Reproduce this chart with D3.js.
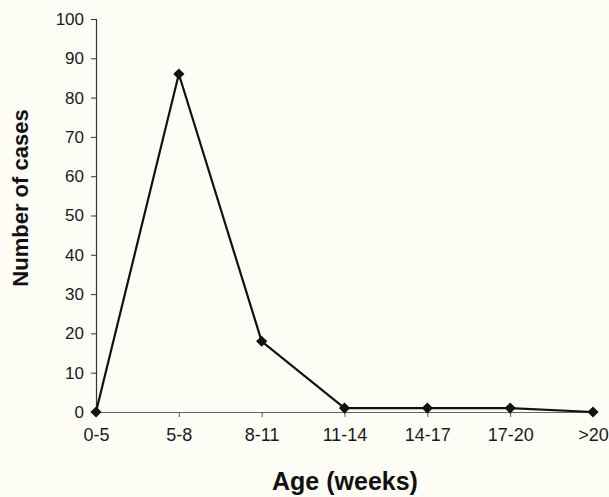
<!DOCTYPE html>
<html>
<head>
<meta charset="utf-8">
<script src="https://cdn.jsdelivr.net/npm/d3@7"></script>
<style>
  body { margin: 0; background: #fdfdf6; }
  svg { display: block; }
</style>
</head>
<body>
<div id="chart"></div>
<script>
// age groups and case counts
const ageGroups = ["0-5", "5-8", "8-11", "11-14", "14-17", "17-20", ">20"]
const cases = [0, 86, 18, 1, 1, 1, 0]
const yTicks = [0, 10, 20, 30, 40, 50, 60, 70, 80, 90, 100]

const width = 609
const height = 497
const margin = {top: 19, right: 16, bottom: 85, left: 96}

const svg = d3.select("#chart").append("svg")
  .attr("width", width)
  .attr("height", height)
  .style("background", "#fdfdf6")
  .style("font-family", "Liberation Sans, Arial, sans-serif")

const x = d3.scalePoint()
  .domain(ageGroups)
  .range([margin.left, width - margin.right])

const y = d3.scaleLinear()
  .domain([0, 100])
  .range([height - margin.bottom, margin.top])

// y axis
const yAxis = svg.append("g")
  .attr("transform", "translate(" + margin.left + ",0)")
  .call(d3.axisLeft(y).tickValues(yTicks).tickSize(5).tickPadding(7))
yAxis.select(".domain").attr("stroke", "#333").attr("stroke-width", 1.2)
yAxis.selectAll(".tick line").attr("stroke", "#333")
yAxis.selectAll("text").attr("font-size", 17).attr("fill", "#1a1a1a")

// x axis
const xAxis = svg.append("g")
  .attr("transform", "translate(0," + y(0) + ")")
  .call(d3.axisBottom(x).tickSize(5).tickPadding(11).tickSizeOuter(0))
xAxis.select(".domain").attr("stroke", "#666").attr("stroke-width", 1.2)
xAxis.selectAll(".tick line").attr("stroke", "#555")
xAxis.selectAll("text").attr("font-size", 18).attr("fill", "#1a1a1a")

// line
const line = d3.line()
  .x((d, i) => x(ageGroups[i]))
  .y(d => y(d))

svg.append("path")
  .datum(cases)
  .attr("fill", "none")
  .attr("stroke", "#111")
  .attr("stroke-width", 2.2)
  .attr("d", line)

// diamond markers
svg.selectAll(".pt")
  .data(cases)
  .enter()
  .append("path")
  .attr("class", "pt")
  .attr("d", d3.symbol().type(d3.symbolDiamond2).size(80))
  .attr("transform", (d, i) => "translate(" + x(ageGroups[i]) + "," + y(d) + ")")
  .attr("fill", "#111")

// axis titles
svg.append("text")
  .attr("x", 345)
  .attr("y", 490)
  .attr("text-anchor", "middle")
  .attr("font-size", 25)
  .attr("font-weight", "bold")
  .attr("fill", "#111")
  .text("Age (weeks)")

svg.append("text")
  .attr("transform", "translate(28,198) rotate(-90)")
  .attr("text-anchor", "middle")
  .attr("font-size", 22)
  .attr("font-weight", "bold")
  .attr("fill", "#111")
  .text("Number of cases")
</script>
</body>
</html>
